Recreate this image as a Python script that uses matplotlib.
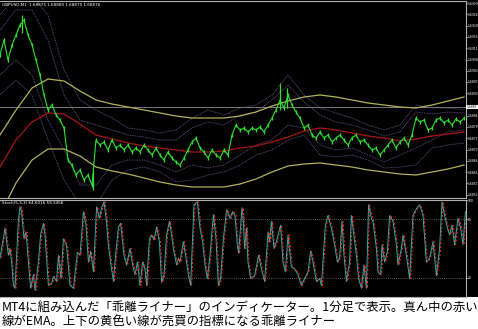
import numpy as np
import matplotlib
matplotlib.use("Agg")
import matplotlib.pyplot as plt

W, H = 478, 329

# ---------------- data ----------------
# close prices, one value every 2 one-minute bars
close = [1.6908, 1.6914, 1.6906, 1.6912, 1.6916, 1.6920, 1.6922, 1.6916, 1.6912, 1.6906,
         1.6900, 1.6892, 1.6886, 1.6888, 1.6884, 1.6882, 1.68788, 1.6866, 1.6864, 1.6860,
         1.6862, 1.6858, 1.6860, 1.6856, 1.6874, 1.6872, 1.68732, 1.6870, 1.6874, 1.68708,
         1.6872, 1.6870, 1.6872, 1.68692, 1.68708, 1.68692, 1.6872, 1.6870, 1.6868, 1.68708,
         1.6868, 1.6866, 1.68692, 1.68668, 1.68652, 1.6864, 1.68668, 1.6870, 1.68732, 1.68748,
         1.68708, 1.68692, 1.68668, 1.6870, 1.6868, 1.68668, 1.6870, 1.6868, 1.6876, 1.6880,
         1.6878, 1.68788, 1.68772, 1.68788, 1.6878, 1.68792, 1.68772, 1.6880, 1.68828, 1.6886,
         1.6890, 1.68868, 1.6892, 1.6888, 1.68852, 1.68828, 1.68788, 1.6880, 1.6876, 1.68748,
         1.68772, 1.68748, 1.6876, 1.68732, 1.68748, 1.6876, 1.6874, 1.6872, 1.68748, 1.6876,
         1.68732, 1.6874, 1.6872, 1.6870, 1.68708, 1.6868, 1.6870, 1.6872, 1.6874, 1.68708,
         1.68732, 1.68748, 1.6872, 1.6876, 1.68828, 1.68812, 1.6882, 1.6878, 1.68788, 1.6882,
         1.68828, 1.68808, 1.6882, 1.6880, 1.68824, 1.68812, 1.68828]
close_step = 2

# tall wicks
wick_t = [11, 46.5, 140, 143.5]
wick_hi = [1.6924, 1.6862, 1.68968, 1.68948]
wick_lo = [1.6917, 1.6854, 1.6886, 1.68868]

# indicator lines, one value every 8 bars
band_step = 8
ema = [1.68632, 1.6874, 1.68812, 1.68848, 1.68844, 1.68804, 1.6876, 1.68744, 1.68728, 1.68716,
       1.68708, 1.6870, 1.68692, 1.68692, 1.68696, 1.68708, 1.68716, 1.68732, 1.68752, 1.68776,
       1.68788, 1.6878, 1.68768, 1.68756, 1.68748, 1.68736, 1.68744, 1.68756, 1.68764, 1.68772]
upper_band = [1.6876, 1.6886, 1.68948, 1.68984, 1.68976, 1.68936, 1.6890, 1.68884, 1.68872, 1.6886,
              1.68848, 1.68836, 1.68828, 1.68828, 1.68828, 1.68836, 1.68852, 1.68876, 1.68896, 1.68912,
              1.6892, 1.68912, 1.6890, 1.68888, 1.6888, 1.68872, 1.68868, 1.6888, 1.68896, 1.68912]
lower_band = [1.6844, 1.68568, 1.6866, 1.68704, 1.68704, 1.68676, 1.68632, 1.68616, 1.68604, 1.68588,
              1.68572, 1.6856, 1.68552, 1.68552, 1.68552, 1.68564, 1.68584, 1.68612, 1.68636, 1.68644,
              1.68648, 1.6864, 1.68632, 1.6862, 1.68612, 1.68604, 1.686, 1.68612, 1.68624, 1.6864]
env_up_outer = [1.6924, 1.6932, 1.6932, 1.6924, 1.6902, 1.6890, 1.6886, 1.68828, 1.68788, 1.6878,
                1.68768, 1.6878, 1.68828, 1.6886, 1.6884, 1.68868, 1.6888, 1.6892, 1.6900, 1.6892,
                1.68868, 1.68848, 1.68828, 1.6880, 1.6878, 1.6880, 1.6888, 1.68868, 1.68868, 1.6886]
env_up_inner = [1.6918, 1.6926, 1.6926, 1.6914, 1.6892, 1.6882, 1.6880, 1.6878, 1.6876, 1.68752,
                1.6874, 1.6874, 1.68788, 1.68812, 1.6880, 1.6884, 1.68852, 1.6890, 1.6896, 1.68892,
                1.6884, 1.68812, 1.6880, 1.6878, 1.68756, 1.68772, 1.68852, 1.68844, 1.68852, 1.68848]
env_lo_inner = [1.6900, 1.6906, 1.6900, 1.6882, 1.6870, 1.6856, 1.6856, 1.6864, 1.6866, 1.6866,
                1.6864, 1.68612, 1.6864, 1.68628, 1.6864, 1.6868, 1.6872, 1.6874, 1.6880, 1.68788,
                1.6872, 1.6870, 1.68708, 1.6868, 1.68652, 1.6868, 1.68708, 1.6874, 1.68772, 1.6878]
env_lo_outer = [1.6892, 1.6898, 1.6892, 1.6874, 1.6858, 1.6848, 1.6848, 1.6858, 1.6862, 1.68632,
                1.68612, 1.68572, 1.6858, 1.6860, 1.68612, 1.6864, 1.6868, 1.6870, 1.6874, 1.6876,
                1.6868, 1.68672, 1.6868, 1.6866, 1.68628, 1.68632, 1.6864, 1.68708, 1.6872, 1.68728]

price_ticks = [1.69287, 1.69242, 1.69197, 1.69152, 1.69107, 1.69062, 1.69017, 1.68972, 1.68927,
               1.68837, 1.68792, 1.68747, 1.68702, 1.68657, 1.68612, 1.68567, 1.68522]
current_price = 1.68872

# stochastic oscillator (bar index, value)
osc_t = [0, 2.5, 4.2, 5, 5.8, 6.7, 7.5, 9.2, 10, 10.8, 12, 13, 14.2, 15.3, 16.7, 17.5, 19.2, 20.3,
         21.7, 22.5, 24.2, 25.8, 26.7, 28.3, 29.2, 30.5, 31.7, 33.3, 35, 36.7, 38.7, 40, 41.7, 43,
         44.2, 45.3, 46.7, 48.3, 49.7, 50.8, 52, 53.3, 54.2, 55.3, 56.7, 57.5, 59.2, 60.3, 62, 63.3,
         65, 66.3, 67.5, 68.7, 70, 71.3, 72.5, 73.3, 74.7, 75.8, 77, 78.3, 79.7, 80.8, 82, 83.3,
         84.7, 85.8, 86.7, 88.3, 89.2, 90, 91.7, 93, 94.2, 95.3, 97, 98.7, 100, 101.3, 102.5, 103.7,
         105, 106.7, 108, 109.2, 110.3, 111.7, 113.3, 115, 116.3, 117.5, 118.7, 119.3, 121, 121.5,
         122.3, 123.2, 124, 125.3, 127.3, 129.3, 130.7, 132.3, 134, 134.8, 135.7, 137, 138.2, 139,
         140.3, 141.5, 142.7, 144, 145.7, 147.3, 149, 150.7, 152.3, 154, 155.3, 156.5, 158.2, 159.8,
         160.7, 162.7, 164, 165.7, 167.3, 168.7, 169.8, 171, 172, 173.2, 174.8, 175.7, 176.5, 178.2,
         179.3, 180.7, 182, 183.2, 184.3, 185.7, 186.5, 188.2, 189, 190.3, 191, 192.3, 193.7, 194.8,
         196.5, 198.2, 199, 200.7, 201.5, 203.2, 204.8, 206.5, 208.2, 209.8, 211.5, 213.2, 214.8,
         216.5, 218.2, 219.8, 221, 222.3, 223.7, 224.8, 226, 227.3, 229, 230.3, 231.5, 232.7]
osc_main = [40, 71, 43, 50, 36, 12, 9, 79, 93, 88, 60, 67, 36, 9, 23, 7, 36, 64,
            76, 64, 12, 14, 21, 16, 43, 19, 60, 53, 12, 9, 46, 43, 88, 74,
            36, 47, 26, 93, 81, 92, 98, 77, 53, 36, 16, 36, 72, 76, 43, 33,
            50, 33, 23, 36, 12, 36, 29, 12, 60, 64, 59, 72, 57, 15, 23, 64,
            78, 64, 50, 33, 40, 36, 57, 40, 23, 12, 95, 98, 71, 57, 33, 19,
            43, 85, 60, 12, 19, 60, 90, 81, 88, 84, 53, 45, 92, 84,
            50, 71, 36, 19, 22, 43, 29, 16, 67, 57, 78, 50, 57, 64,
            74, 36, 26, 64, 31, 29, 23, 12, 19, 26, 47, 36, 16, 19,
            12, 74, 84, 71, 54, 36, 40, 78, 43, 16, 36, 84, 71, 43,
            19, 9, 33, 9, 95, 81, 78, 50, 26, 23, 54, 36, 47, 84,
            78, 54, 33, 50, 64, 43, 19, 84, 91, 95, 84, 36, 40,
            57, 22, 50, 98, 84, 71, 64, 74, 54, 81, 71, 54, 88]
osc_levels = [80, 20]
osc_ticks = [100, 80, 20]

header_text = "GBPUSD,M1  1.68875 1.68880 1.68870 1.68876"
osc_label = "Stoch(5,3,3) 64.6016 59.3456"
caption_1 = "MT4に組み込んだ「乖離ライナー」のインディケーター。1分足で表示。真ん中の赤い"
caption_2 = "線がEMA。上下の黄色い線が売買の指標になる乖離ライナー"

# ---------------- figure ----------------
fig = plt.figure(figsize=(W / 100, H / 100), dpi=100, facecolor="white")

bg = fig.add_axes([0, 32 / H, 1, 297 / H])
bg.set_facecolor("black")
bg.set_xticks([]); bg.set_yticks([])
for s in bg.spines.values():
    s.set_visible(False)

ax = fig.add_axes([0, (H - 198) / H, 466 / W, 197 / H])
ax2 = fig.add_axes([0, (H - 297) / H, 466 / W, 97 / H])

grid_col = "#b0b0b0"
for a in (ax, ax2):
    a.set_facecolor("black")
    a.set_xlim(0, 233)
    a.set_xticks([])
    a.yaxis.tick_right()
    a.tick_params(axis="y", colors=grid_col, labelcolor="white", labelsize=2.2,
                  length=1.2, width=0.5, pad=0.2)
    a.spines["left"].set_visible(False)
    for k in ("top", "right", "bottom"):
        a.spines[k].set_color(grid_col)
        a.spines[k].set_linewidth(0.8)

# main panel
ax.set_ylim(1.6930 - 0.00004 * 198, 1.6930 - 0.00004 * 1)
ax.set_yticks(price_ticks)
ax.set_yticklabels([f"{v:.4f}" for v in price_ticks])

t_close = np.arange(len(close)) * close_step
t_band = np.arange(len(ema)) * band_step

ax.axhline(current_price, color="#8c8c8c", lw=0.6)

purple = "#735a98"
for series in (env_up_outer, env_up_inner, env_lo_inner, env_lo_outer):
    ax.plot(t_band, series, color=purple, lw=0.6, ls=(0, (1, 1)))

yellow = "#b4b05a"
ax.plot(t_band, upper_band, color=yellow, lw=0.9)
ax.plot(t_band, lower_band, color=yellow, lw=0.9)
ax.plot(t_band, ema, color="#a81616", lw=0.9)

green = "#2ee02e"
ax.plot(t_close, close, color=green, lw=0.8, marker="|", markersize=3.5,
        markeredgewidth=0.9)
ax.vlines(wick_t, wick_lo, wick_hi, color=green, lw=0.9)

ax.text(233.4, current_price, f"{current_price:.4f}", fontsize=2.2, color="black",
        va="center", ha="left", clip_on=False,
        bbox=dict(boxstyle="square,pad=0.1", fc="white", ec="none"))

ax.text(0.004, 0.992, header_text, transform=ax.transAxes, fontsize=3.0, color="white",
        va="top", ha="left")

# oscillator panel
ax2.set_ylim(0, 100)
ax2.set_yticks(osc_ticks)
ax2.set_yticklabels([str(v) for v in osc_ticks])
for lv in osc_levels:
    ax2.axhline(lv, color="#a0a0a0", lw=0.5, ls=(0, (1, 2)))
ax2.plot(osc_t, osc_main, color="#20b2aa", lw=0.7)
ax2.plot(np.array(osc_t) + 0.5, osc_main, color="#ff2a2a", lw=0.7, ls=(0, (2, 2)))
ax2.text(0.004, 0.985, osc_label, transform=ax2.transAxes, fontsize=3.0, color="white",
         va="top", ha="left")

# caption
cjk = ["Noto Sans CJK JP", "DejaVu Sans"]
fig.text(0.004, 1 - 307 / H, caption_1, fontsize=8.9, family=cjk, color="black",
         va="center", ha="left")
fig.text(0.004, 1 - 321.5 / H, caption_2, fontsize=8.9, family=cjk, color="black",
         va="center", ha="left")

fig.savefig("out.png", dpi=100, facecolor="white")
